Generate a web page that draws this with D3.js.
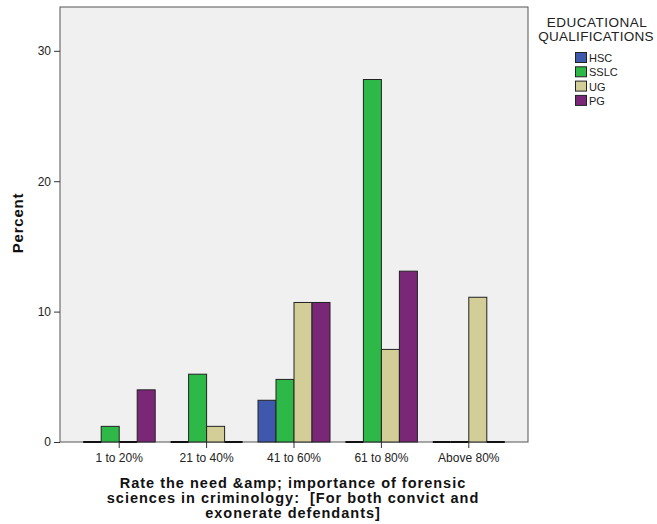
<!DOCTYPE html>
<html><head><meta charset="utf-8">
<script src="https://cdn.jsdelivr.net/npm/d3@7"></script>
<style>body{margin:0;background:#fff}svg{display:block;font-family:Arial,"Liberation Sans",sans-serif}</style>
</head><body>
<svg id="c" width="657" height="524"></svg>
<script>
const categories = ["1 to 20%", "21 to 40%", "41 to 60%", "61 to 80%", "Above 80%"];
const seriesNames = ["HSC", "SSLC", "UG", "PG"];
const HSC  = [0, 0, 3.2, 0, 0];
const SSLC = [1.2, 5.2, 4.8, 27.8, 0];
const UG   = [0, 1.2, 10.7, 7.1, 11.1];
const PG   = [4.0, 0, 10.7, 13.1, 0];
const yTicks = [0, 10, 20, 30];
const colors = ["#3e58ac", "#2eb848", "#d3ce97", "#7b2778"];
const series = [HSC, SSLC, UG, PG];

const svg = d3.select("#c");
const L = 60, T = 7, R = 528, B = 442;
svg.append("rect").attr("x", L).attr("y", T).attr("width", R - L).attr("height", B - T)
  .attr("fill", "#f0f0f0").attr("stroke", "#555").attr("stroke-width", 1);

const x = d3.scaleBand().domain(categories).range([75.5, 512.5]);
const xi = d3.scaleBand().domain(seriesNames).range([0, 72]);
const y = d3.scaleLinear().domain([0, 33.36]).range([B, T]);

const g = svg.append("g");
categories.forEach((c, ci) => {
  const gx = x(c) + x.bandwidth() / 2 - 36;
  seriesNames.forEach((s, si) => {
    const v = series[si][ci];
    if (v > 0) {
      g.append("rect").attr("x", gx + xi(s)).attr("y", y(v))
        .attr("width", xi.bandwidth()).attr("height", y(0) - y(v))
        .attr("fill", colors[si]).attr("stroke", "#222").attr("stroke-width", 1);
    } else {
      g.append("line").attr("x1", gx + xi(s)).attr("x2", gx + xi(s) + xi.bandwidth())
        .attr("y1", y(0)).attr("y2", y(0)).attr("stroke", "#111").attr("stroke-width", 2);
    }
  });
});

// y axis
const ya = svg.append("g").attr("transform", `translate(${L},0)`)
  .call(d3.axisLeft(y).tickValues(yTicks).tickSize(6).tickPadding(3));
ya.select(".domain").remove();
ya.selectAll("line").attr("stroke", "#333");
ya.selectAll("text").attr("font-size", 12).attr("fill", "#222").attr("font-family", "Arial,'Liberation Sans',sans-serif");

// x axis
const xa = svg.append("g").attr("transform", `translate(0,${B})`)
  .call(d3.axisBottom(x).tickSize(6).tickPadding(5));
xa.select(".domain").remove();
xa.selectAll("line").attr("stroke", "#333");
xa.selectAll("text").attr("font-size", 12).attr("fill", "#222").attr("font-family", "Arial,'Liberation Sans',sans-serif");

// axis titles
svg.append("text").attr("transform", "translate(23,223) rotate(-90)").attr("text-anchor", "middle")
  .attr("font-size", 15).attr("letter-spacing", 0.8).attr("font-weight", "bold").attr("fill", "#111").text("Percent");
const xt = ["Rate the need &amp; importance of forensic", "sciences in criminology:  [For both convict and", "exonerate defendants]"];
xt.forEach((t, i) => {
  svg.append("text").attr("x", 293).attr("y", 488 + i * 15.2).attr("text-anchor", "middle")
    .attr("font-size", 14.5).attr("letter-spacing", 1.0).attr("font-weight", "bold").attr("fill", "#111")
    .style("white-space", "pre").text(t);
});

// legend
svg.append("text").attr("x", 597).attr("y", 27).attr("text-anchor", "middle").attr("font-size", 13.5).attr("letter-spacing", 0.5).attr("fill", "#222").text("EDUCATIONAL");
svg.append("text").attr("x", 596).attr("y", 41).attr("text-anchor", "middle").attr("font-size", 13.5).attr("letter-spacing", 0.3).attr("fill", "#222").text("QUALIFICATIONS");
seriesNames.forEach((s, i) => {
  svg.append("rect").attr("x", 575.5).attr("y", 52.5 + i * 14.3).attr("width", 11).attr("height", 10)
    .attr("fill", colors[i]).attr("stroke", "#222");
  svg.append("text").attr("x", 589).attr("y", 62 + i * 14.3).attr("font-size", 11).attr("fill", "#222").text(s);
});
</script>
</body></html>
